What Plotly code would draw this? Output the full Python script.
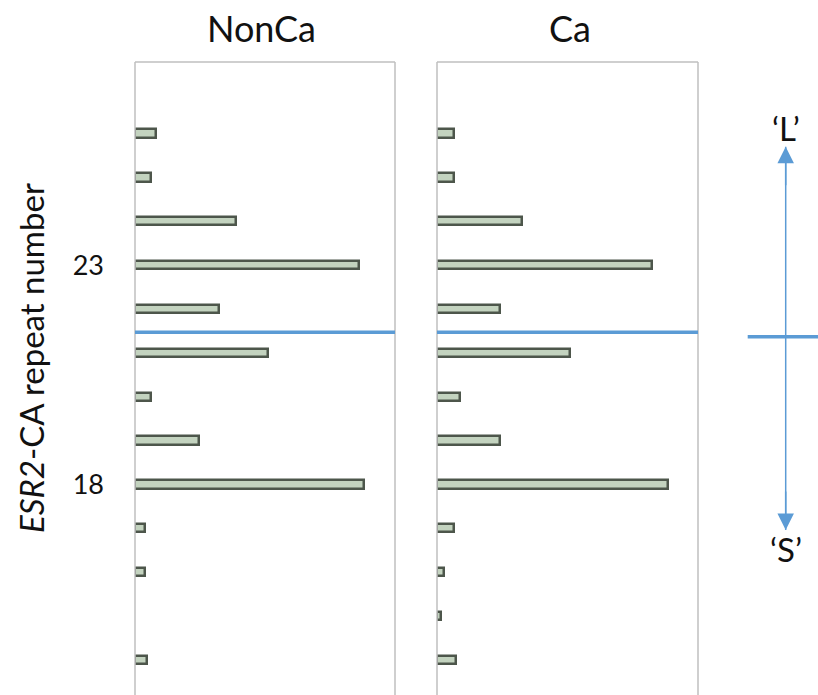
import plotly.graph_objects as go

# ESR2-CA repeat numbers and allele frequencies (%) in each group
repeats = [26, 25, 24, 23, 22, 21, 20, 19, 18, 17, 16, 15, 14]
nonca_freq = [2.4, 1.8, 11.6, 25.8, 9.7, 15.3, 1.8, 7.4, 26.4, 1.1, 1.1, None, 1.35]
ca_freq = [1.9, 1.9, 9.8, 24.7, 7.2, 15.3, 2.7, 7.2, 26.5, 1.9, 0.8, 0.5, 2.2]
panel_titles = ["NonCa", "Ca"]
y_ticks = [18, 23]
split_at = 21.47  # boundary between short ('S') and long ('L') alleles

FONT = "Lato"
BAR_FILL = "#c3d3bf"
BAR_EDGE = "#4d564b"
BLUE = "#5b9bd5"
FRAME = "#bfbfbf"

W, H = 818, 695
ML, MR, MT, MB = 135, 120, 62, 0
plot_w = W - ML - MR
plot_h = H - MT - MB

def px_x(p):
    return (p - ML) / plot_w

def px_y(p):
    return (H - MB - p) / plot_h

fig = go.Figure()
for i, freq in enumerate([nonca_freq, ca_freq]):
    fig.add_trace(go.Bar(
        x=freq, y=repeats, orientation="h", width=0.19,
        marker=dict(color=BAR_FILL, line=dict(color=BAR_EDGE, width=2.5)),
        xaxis="x" if i == 0 else "x2", yaxis="y" if i == 0 else "y2",
        showlegend=False, hoverinfo="x+y",
    ))

dom1 = [0, px_x(395)]
dom2 = [px_x(437), 1]
y_range = [13.2, 27.63]

xcommon = dict(range=[0, 30], showgrid=False, zeroline=False, showticklabels=False,
               showline=False, ticks="", fixedrange=True)
fig.update_layout(
    width=W, height=H,
    margin=dict(l=ML, r=MR, t=MT, b=MB),
    paper_bgcolor="white", plot_bgcolor="white",
    font=dict(family=FONT, color="#111"),
    xaxis=dict(domain=dom1, anchor="y", **xcommon),
    xaxis2=dict(domain=dom2, anchor="y2", **xcommon),
    yaxis=dict(range=y_range, anchor="x", tickvals=y_ticks, ticks="", showgrid=False,
               zeroline=False, showline=False, tickfont=dict(size=27, family=FONT),
               ticklabelstandoff=30),
    yaxis2=dict(range=y_range, anchor="x2", showticklabels=False, ticks="", showgrid=False,
                zeroline=False, showline=False),
    bargap=0,
)

shapes = []
for xa, ya in [("x", "y"), ("x2", "y2")]:
    xd, yd = f"{xa} domain", f"{ya} domain"
    # panel frame: left, right and top edges
    shapes += [
        dict(type="line", xref=xd, yref=yd, x0=0, x1=0, y0=0, y1=1, line=dict(color=FRAME, width=1.5)),
        dict(type="line", xref=xd, yref=yd, x0=1, x1=1, y0=0, y1=1, line=dict(color=FRAME, width=1.5)),
        dict(type="line", xref=xd, yref=yd, x0=0, x1=1, y0=1, y1=1, line=dict(color=FRAME, width=1.5)),
        dict(type="line", xref=xd, yref=ya, x0=0, x1=1, y0=split_at, y1=split_at,
             line=dict(color=BLUE, width=3.5)),
    ]

# S/L direction guide on the right
ax_x = px_x(785.7)
top_tip, bot_tip = px_y(146.7), px_y(530)
shapes += [
    dict(type="line", xref="paper", yref="paper", x0=ax_x, x1=ax_x, y0=bot_tip, y1=top_tip,
         line=dict(color=BLUE, width=1.5)),
    dict(type="line", xref="paper", yref="paper", x0=px_x(747.7), x1=px_x(818), y0=px_y(336.7),
         y1=px_y(336.7), line=dict(color=BLUE, width=3.5)),
]
fig.update_layout(shapes=shapes)

annotations = [
    dict(text=panel_titles[0], xref="paper", yref="paper", x=px_x(261.5), y=px_y(28),
         showarrow=False, font=dict(size=36, family=FONT), xanchor="center", yanchor="middle"),
    dict(text=panel_titles[1], xref="paper", yref="paper", x=px_x(570), y=px_y(28),
         showarrow=False, font=dict(size=36, family=FONT), xanchor="center", yanchor="middle"),
    dict(text="<i>ESR2</i>-CA repeat number", xref="paper", yref="paper", x=px_x(31), y=px_y(358),
         textangle=-90, showarrow=False, font=dict(size=33, family=FONT),
         xanchor="center", yanchor="middle"),
    dict(text="\u2018L\u2019", xref="paper", yref="paper", x=ax_x, y=px_y(128), showarrow=False,
         font=dict(size=33, family=FONT), xanchor="center", yanchor="middle"),
    dict(text="\u2018S\u2019", xref="paper", yref="paper", x=ax_x, y=px_y(549), showarrow=False,
         font=dict(size=33, family=FONT), xanchor="center", yanchor="middle"),
    dict(text="", xref="paper", yref="paper", x=ax_x, y=top_tip, ax=0, ay=40, showarrow=True,
         arrowhead=2, arrowsize=2.2, arrowwidth=1.5, arrowcolor=BLUE),
    dict(text="", xref="paper", yref="paper", x=ax_x, y=bot_tip, ax=0, ay=-40, showarrow=True,
         arrowhead=2, arrowsize=2.2, arrowwidth=1.5, arrowcolor=BLUE),
]
fig.update_layout(annotations=annotations)

fig.write_html("out.html")
